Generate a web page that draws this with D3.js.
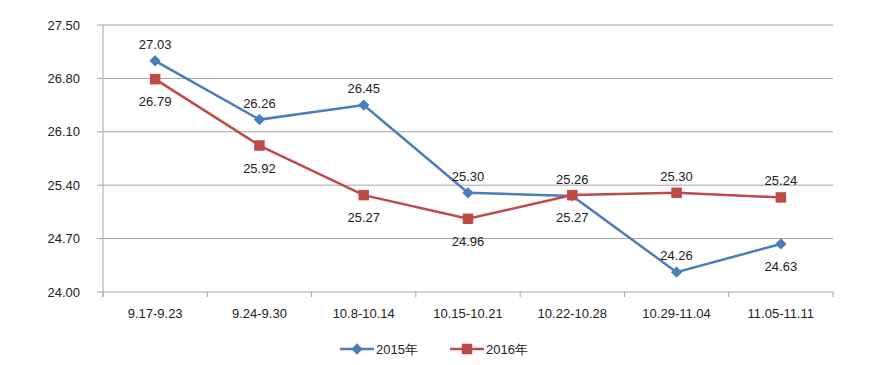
<!DOCTYPE html>
<html><head><meta charset="utf-8">
<script src="https://cdn.jsdelivr.net/npm/d3@7"></script>
<style>body{margin:0;background:#fff}svg{display:block}text{font-family:"Liberation Sans","Open Sans",sans-serif;fill:#222}</style>
</head><body><svg id="c" width="871" height="365"></svg>
<script>
const categories = ["9.17-9.23","9.24-9.30","10.8-10.14","10.15-10.21","10.22-10.28","10.29-11.04","11.05-11.11"];
const values2015 = [27.03,26.26,26.45,25.30,25.26,24.26,24.63];
const values2016 = [26.79,25.92,25.27,24.96,25.27,25.30,25.24];
const labelPos2015 = ["above","above","above","above","above","above","below"];
const labelPos2016 = ["below","below","below","below","below","above","above"];
const yTicks = [24.00,24.70,25.40,26.10,26.80,27.50];
const seriesNames = ["2015年","2016年"];

const svg = d3.select("#c");
const L=103,R=833,T=25,B=292;
const x = d3.scaleBand().domain(categories).range([L,R]);
const y = d3.scaleLinear().domain([24,27.5]).range([B,T]);
const cx = d => x(d)+x.bandwidth()/2;

svg.append("g").selectAll("line").data(yTicks).join("line")
 .attr("x1",L-6).attr("x2",R).attr("y1",d=>y(d)).attr("y2",d=>y(d))
 .attr("stroke","#a6a6a6").attr("stroke-width",1);
svg.append("line").attr("x1",L).attr("x2",L).attr("y1",T).attr("y2",B+5).attr("stroke","#a6a6a6");
const bounds = categories.map(c=>x(c)).concat([R]);
svg.append("g").selectAll("line").data(bounds).join("line")
 .attr("x1",d=>d).attr("x2",d=>d).attr("y1",B).attr("y2",B+5).attr("stroke","#a6a6a6");
svg.append("g").selectAll("text").data(yTicks).join("text")
 .attr("x",80).attr("y",d=>y(d)+4.5).attr("text-anchor","end").attr("font-size",13)
 .text(d=>d.toFixed(2));
svg.append("g").selectAll("text").data(categories).join("text")
 .attr("x",d=>cx(d)).attr("y",318).attr("text-anchor","middle").attr("font-size",13)
 .text(d=>d);

const series = [
 {vals:values2015,color:"#4a7ebb",pos:labelPos2015,shape:d3.symbolSquare,size:64,rot:45},
 {vals:values2016,color:"#be4b48",pos:labelPos2016,shape:d3.symbolSquare,size:110,rot:0}
];
const line = d3.line().x((d,i)=>cx(categories[i])).y(d=>y(d));
series.forEach(s=>{
  svg.append("path").attr("d",line(s.vals)).attr("fill","none").attr("stroke",s.color).attr("stroke-width",2.5);
  svg.append("g").selectAll("path").data(s.vals).join("path")
   .attr("transform",(d,i)=>`translate(${cx(categories[i])},${y(d)}) rotate(${s.rot})`)
   .attr("d",d3.symbol(s.shape,s.size)()).attr("fill",s.color);
});
series.forEach(s=>{
  svg.append("g").selectAll("text").data(s.vals).join("text")
   .attr("x",(d,i)=>cx(categories[i])).attr("y",(d,i)=>y(d)+(s.pos[i]==="above"?-12:27))
   .attr("text-anchor","middle").attr("font-size",13).text(d=>d.toFixed(2));
});
const leg=[{x:340,s:series[0],n:seriesNames[0]},{x:450,s:series[1],n:seriesNames[1]}];
leg.forEach(l=>{
  svg.append("line").attr("x1",l.x).attr("x2",l.x+34).attr("y1",349).attr("y2",349).attr("stroke",l.s.color).attr("stroke-width",2.5);
  svg.append("path").attr("transform",`translate(${l.x+17},349) rotate(${l.s.rot})`).attr("d",d3.symbol(l.s.shape,l.s.size)()).attr("fill",l.s.color);
  svg.append("text").attr("x",l.x+36).attr("y",354).attr("font-size",13).text(l.n);
});
</script></body></html>
